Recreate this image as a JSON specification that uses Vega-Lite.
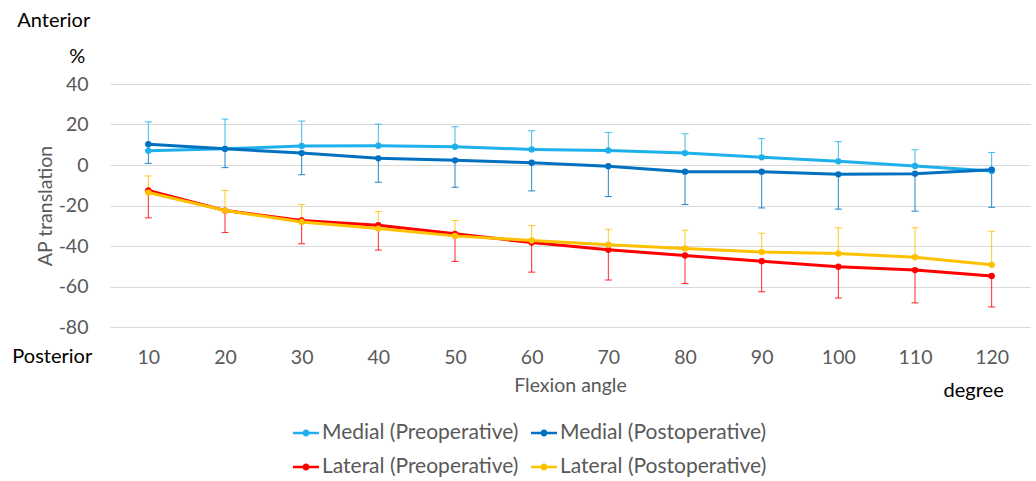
{
  "$schema": "https://vega.github.io/schema/vega-lite/v6.json",
  "width": 920,
  "height": 243,
  "autosize": {"type": "none"},
  "padding": {"left": 110, "top": 84, "right": 6, "bottom": 154},
  "background": "white",
  "config": {
    "font": "Lato",
    "view": {"stroke": null},
    "axis": {
      "labelFont": "Lato", "titleFont": "Lato",
      "labelFontSize": 19.5, "titleFontSize": 19.5,
      "labelColor": "#595959", "titleColor": "#595959",
      "titleFontWeight": "normal",
      "domain": false, "ticks": false,
      "gridColor": "#D9D9D9", "gridWidth": 1
    }
  },
  "data": {"values": [
    {"angle": 10, "group": "Medial (Preoperative)", "value": 7.0, "lo": 7.0, "hi": 21.3},
    {"angle": 20, "group": "Medial (Preoperative)", "value": 8.0, "lo": 8.0, "hi": 22.7},
    {"angle": 30, "group": "Medial (Preoperative)", "value": 9.4, "lo": 9.4, "hi": 21.7},
    {"angle": 40, "group": "Medial (Preoperative)", "value": 9.5, "lo": 9.5, "hi": 20.2},
    {"angle": 50, "group": "Medial (Preoperative)", "value": 9.0, "lo": 9.0, "hi": 18.9},
    {"angle": 60, "group": "Medial (Preoperative)", "value": 7.7, "lo": 7.7, "hi": 16.9},
    {"angle": 70, "group": "Medial (Preoperative)", "value": 7.2, "lo": 7.2, "hi": 16.1},
    {"angle": 80, "group": "Medial (Preoperative)", "value": 5.9, "lo": 5.9, "hi": 15.4},
    {"angle": 90, "group": "Medial (Preoperative)", "value": 3.8, "lo": 3.8, "hi": 13.0},
    {"angle": 100, "group": "Medial (Preoperative)", "value": 1.8, "lo": 1.8, "hi": 11.5},
    {"angle": 110, "group": "Medial (Preoperative)", "value": -0.5, "lo": -0.5, "hi": 7.5},
    {"angle": 120, "group": "Medial (Preoperative)", "value": -3.0, "lo": -3.0, "hi": 6.2},
    {"angle": 10, "group": "Medial (Postoperative)", "value": 10.3, "lo": 0.8, "hi": 10.3},
    {"angle": 20, "group": "Medial (Postoperative)", "value": 8.0, "lo": -1.3, "hi": 8.0},
    {"angle": 30, "group": "Medial (Postoperative)", "value": 5.9, "lo": -4.8, "hi": 5.9},
    {"angle": 40, "group": "Medial (Postoperative)", "value": 3.3, "lo": -8.5, "hi": 3.3},
    {"angle": 50, "group": "Medial (Postoperative)", "value": 2.3, "lo": -11.0, "hi": 2.3},
    {"angle": 60, "group": "Medial (Postoperative)", "value": 1.1, "lo": -12.8, "hi": 1.1},
    {"angle": 70, "group": "Medial (Postoperative)", "value": -0.6, "lo": -15.6, "hi": -0.6},
    {"angle": 80, "group": "Medial (Postoperative)", "value": -3.3, "lo": -19.5, "hi": -3.3},
    {"angle": 90, "group": "Medial (Postoperative)", "value": -3.3, "lo": -21.2, "hi": -3.3},
    {"angle": 100, "group": "Medial (Postoperative)", "value": -4.6, "lo": -21.8, "hi": -4.6},
    {"angle": 110, "group": "Medial (Postoperative)", "value": -4.3, "lo": -22.8, "hi": -4.3},
    {"angle": 120, "group": "Medial (Postoperative)", "value": -2.3, "lo": -20.9, "hi": -2.3},
    {"angle": 10, "group": "Lateral (Preoperative)", "value": -12.6, "lo": -26.1, "hi": -12.6},
    {"angle": 20, "group": "Lateral (Preoperative)", "value": -22.5, "lo": -33.3, "hi": -22.5},
    {"angle": 30, "group": "Lateral (Preoperative)", "value": -27.4, "lo": -38.9, "hi": -27.4},
    {"angle": 40, "group": "Lateral (Preoperative)", "value": -29.7, "lo": -42.0, "hi": -29.7},
    {"angle": 50, "group": "Lateral (Preoperative)", "value": -34.0, "lo": -47.6, "hi": -34.0},
    {"angle": 60, "group": "Lateral (Preoperative)", "value": -38.3, "lo": -52.9, "hi": -38.3},
    {"angle": 70, "group": "Lateral (Preoperative)", "value": -41.9, "lo": -56.8, "hi": -41.9},
    {"angle": 80, "group": "Lateral (Preoperative)", "value": -44.7, "lo": -58.5, "hi": -44.7},
    {"angle": 90, "group": "Lateral (Preoperative)", "value": -47.5, "lo": -62.6, "hi": -47.5},
    {"angle": 100, "group": "Lateral (Preoperative)", "value": -50.2, "lo": -65.7, "hi": -50.2},
    {"angle": 110, "group": "Lateral (Preoperative)", "value": -51.9, "lo": -68.1, "hi": -51.9},
    {"angle": 120, "group": "Lateral (Preoperative)", "value": -54.8, "lo": -70.1, "hi": -54.8},
    {"angle": 10, "group": "Lateral (Postoperative)", "value": -13.6, "lo": -13.6, "hi": -5.4},
    {"angle": 20, "group": "Lateral (Postoperative)", "value": -22.5, "lo": -22.5, "hi": -12.6},
    {"angle": 30, "group": "Lateral (Postoperative)", "value": -28.1, "lo": -28.1, "hi": -19.5},
    {"angle": 40, "group": "Lateral (Postoperative)", "value": -31.4, "lo": -31.4, "hi": -23.0},
    {"angle": 50, "group": "Lateral (Postoperative)", "value": -35.0, "lo": -35.0, "hi": -27.4},
    {"angle": 60, "group": "Lateral (Postoperative)", "value": -37.3, "lo": -37.3, "hi": -29.9},
    {"angle": 70, "group": "Lateral (Postoperative)", "value": -39.4, "lo": -39.4, "hi": -31.7},
    {"angle": 80, "group": "Lateral (Postoperative)", "value": -41.2, "lo": -41.2, "hi": -32.2},
    {"angle": 90, "group": "Lateral (Postoperative)", "value": -43.0, "lo": -43.0, "hi": -33.7},
    {"angle": 100, "group": "Lateral (Postoperative)", "value": -43.7, "lo": -43.7, "hi": -31.0},
    {"angle": 110, "group": "Lateral (Postoperative)", "value": -45.5, "lo": -45.5, "hi": -31.0},
    {"angle": 120, "group": "Lateral (Postoperative)", "value": -49.3, "lo": -49.3, "hi": -32.7}
  ]},
  "encoding": {
    "x": {
      "field": "angle", "type": "ordinal",
      "scale": {"type": "point", "padding": 0.5},
      "axis": {"title": "Flexion angle", "labelAngle": 0, "labelPadding": 21, "titlePadding": 10, "grid": false}
    }
  },
  "layer": [
    {
      "mark": {"type": "errorbar", "ticks": true, "thickness": 1, "size": 7, "opacity": 0.85},
      "encoding": {
        "y": {"field": "lo", "type": "quantitative", "scale": {"domain": [-80, 40], "nice": false, "zero": false},
              "axis": {"title": "AP translation", "values": [-80, -60, -40, -20, 0, 20, 40], "labelExpr": "'' + datum.value", "labelPadding": 22, "titlePadding": 3, "grid": true}},
        "y2": {"field": "hi"},
        "color": {"field": "group", "type": "nominal",
          "scale": {"domain": ["Medial (Preoperative)", "Medial (Postoperative)", "Lateral (Preoperative)", "Lateral (Postoperative)"],
                    "range": ["#1EB0EA", "#0070C0", "#FF0000", "#FFC000"]},
          "legend": {
            "title": null, "orient": "none", "legendX": 183, "legendY": 336, "columns": 2, "direction": "horizontal",
            "symbolType": "M-1,-0.1H1V0.1H-1Z M-0.27,0A0.27,0.27,0,1,1,0.27,0A0.27,0.27,0,1,1,-0.27,0Z",
            "symbolSize": 676, "symbolStrokeWidth": 0, "symbolOpacity": 1,
            "labelFont": "Lato", "labelFontSize": 21, "labelColor": "#595959", "labelLimit": 400,
            "columnPadding": 12, "rowPadding": 11, "labelOffset": 3,
            "encode": {"symbols": {"update": {
              "fill": {"scale": "color", "field": "value"},
              "stroke": {"value": "transparent"},
              "strokeWidth": {"value": 0},
              "opacity": {"value": 1}
            }}}
          }}
      }
    },
    {
      "mark": {"type": "line", "strokeWidth": 3},
      "encoding": {
        "y": {"field": "value", "type": "quantitative"},
        "color": {"field": "group", "type": "nominal"}
      }
    },
    {
      "mark": {"type": "point", "filled": true, "size": 40, "opacity": 1},
      "encoding": {
        "y": {"field": "value", "type": "quantitative"},
        "color": {"field": "group", "type": "nominal"}
      }
    },
    {
      "data": {"values": [{"label": "Anterior", "ax": 10, "ay": 68}]},
      "mark": {"type": "text", "align": "left", "baseline": "alphabetic", "dx": -131, "fontSize": 20, "font": "Lato", "fill": "#000000"},
      "encoding": {"x": {"field": "ax", "type": "ordinal"}, "y": {"field": "ay", "type": "quantitative"}, "text": {"field": "label"}}
    },
    {
      "data": {"values": [{"label": "%", "ax": 10, "ay": 50.2}]},
      "mark": {"type": "text", "align": "center", "baseline": "alphabetic", "dx": -71, "fontSize": 20, "font": "Lato", "fill": "#000000"},
      "encoding": {"x": {"field": "ax", "type": "ordinal"}, "y": {"field": "ay", "type": "quantitative"}, "text": {"field": "label"}}
    },
    {
      "data": {"values": [{"label": "Posterior", "ax": 10, "ay": -98}]},
      "mark": {"type": "text", "align": "left", "baseline": "alphabetic", "dx": -136, "fontSize": 20, "font": "Lato", "fill": "#000000"},
      "encoding": {"x": {"field": "ax", "type": "ordinal"}, "y": {"field": "ay", "type": "quantitative"}, "text": {"field": "label"}}
    },
    {
      "data": {"values": [{"label": "degree", "ax": 120, "ay": -114.8}]},
      "mark": {"type": "text", "align": "center", "baseline": "alphabetic", "dx": -18, "fontSize": 20, "font": "Lato", "fill": "#000000"},
      "encoding": {"x": {"field": "ax", "type": "ordinal"}, "y": {"field": "ay", "type": "quantitative"}, "text": {"field": "label"}}
    }
  ]
}
